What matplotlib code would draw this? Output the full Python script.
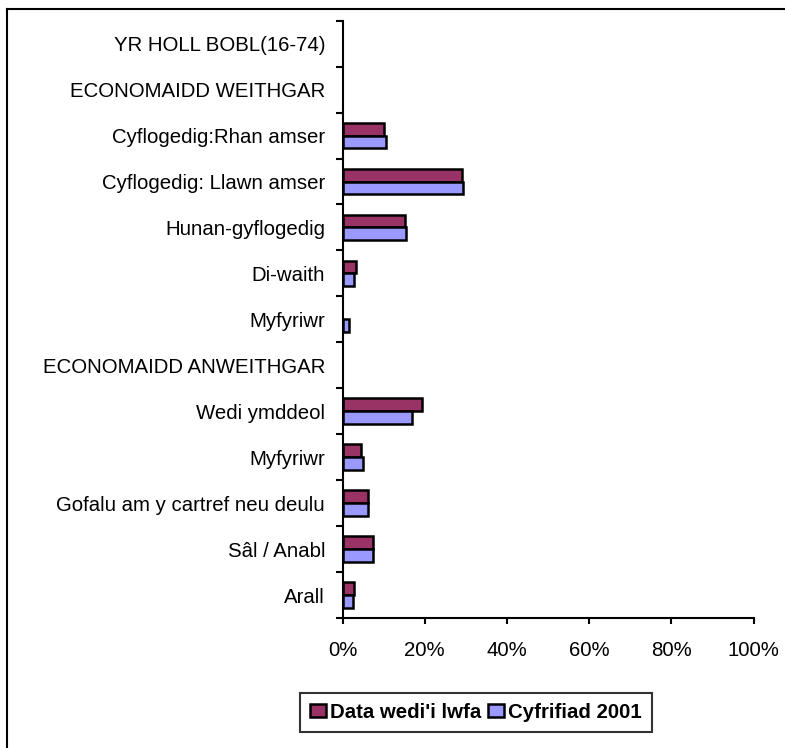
import numpy as np
import matplotlib
matplotlib.use("Agg")
import matplotlib.pyplot as plt
from matplotlib.lines import Line2D
from matplotlib.ticker import FixedLocator, PercentFormatter

plt.rcParams['font.family'] = ['Liberation Sans', 'DejaVu Sans']

categories = [
    "YR HOLL BOBL(16-74)",
    "ECONOMAIDD WEITHGAR",
    "Cyflogedig:Rhan amser",
    "Cyflogedig: Llawn amser",
    "Hunan-gyflogedig",
    "Di-waith",
    "Myfyriwr",
    "ECONOMAIDD ANWEITHGAR",
    "Wedi ymddeol",
    "Myfyriwr",
    "Gofalu am y cartref neu deulu",
    "Sâl / Anabl",
    "Arall",
]
nan = np.nan
data_wedi_lwfa = [nan, nan, 10.2, 29.1, 15.3, 3.2, nan, nan, 19.3, 4.4, 6.1, 7.4, 2.9]
cyfrifiad_2001 = [nan, nan, 10.6, 29.4, 15.5, 2.9, 1.7, nan, 16.8, 4.9, 6.2, 7.5, 2.6]
series_names = ["Data wedi'i lwfa", "Cyfrifiad 2001"]
x_ticks = [0, 20, 40, 60, 80, 100]

W, H = 785, 748
fig = plt.figure(figsize=(W / 100, H / 100), dpi=100)
ax = fig.add_axes([342.5 / W, 1 - 618 / H, 411 / W, 597.3 / H])

y = np.arange(len(categories))
h = 0.28
ax.barh(y - h / 2, data_wedi_lwfa, height=h, color="#993366",
        edgecolor="black", linewidth=1.8, label=series_names[0])
ax.barh(y + h / 2, cyfrifiad_2001, height=h, color="#9999FF",
        edgecolor="black", linewidth=1.8, label=series_names[1])

ax.set_xlim(0, 100)
ax.set_ylim(len(categories) - 0.5, -0.5)

fs = 14.7
ax.set_yticks(y)
ax.set_yticklabels(categories, fontsize=fs)
ax.yaxis.set_minor_locator(FixedLocator(np.arange(len(categories) + 1) - 0.5))
ax.tick_params(axis="y", which="major", length=0, pad=12.6)
ax.tick_params(axis="y", which="minor", length=5, width=1.5, direction="out")

ax.set_xticks(x_ticks)
ax.xaxis.set_major_formatter(PercentFormatter(decimals=0))
ax.tick_params(axis="x", which="major", length=4.5, width=1.5,
               direction="out", labelsize=fs, pad=12)

for s in ("top", "right"):
    ax.spines[s].set_visible(False)
for s in ("left", "bottom"):
    ax.spines[s].set_linewidth(1.5)

leg = fig.legend(loc="center", bbox_to_anchor=(476 / W, 1 - 712.5 / H),
                 ncol=2, frameon=True, fancybox=False, shadow=False,
                 prop={"weight": "bold", "size": fs},
                 handlelength=0.78, handleheight=0.6, handletextpad=0.2,
                 columnspacing=0.35, borderpad=0.5, borderaxespad=0)
leg.get_frame().set_edgecolor("black")
leg.get_frame().set_linewidth(1.5)

# outer chart-area border (left and top edges)
fig.add_artist(Line2D([7 / W, 7 / W], [1 - 8.7 / H, 0], color="black",
                      linewidth=1.5, transform=fig.transFigure))
fig.add_artist(Line2D([7 / W, 1], [1 - 8.7 / H, 1 - 8.7 / H], color="black",
                      linewidth=1.5, transform=fig.transFigure))

fig.savefig("out.png", dpi=100)
